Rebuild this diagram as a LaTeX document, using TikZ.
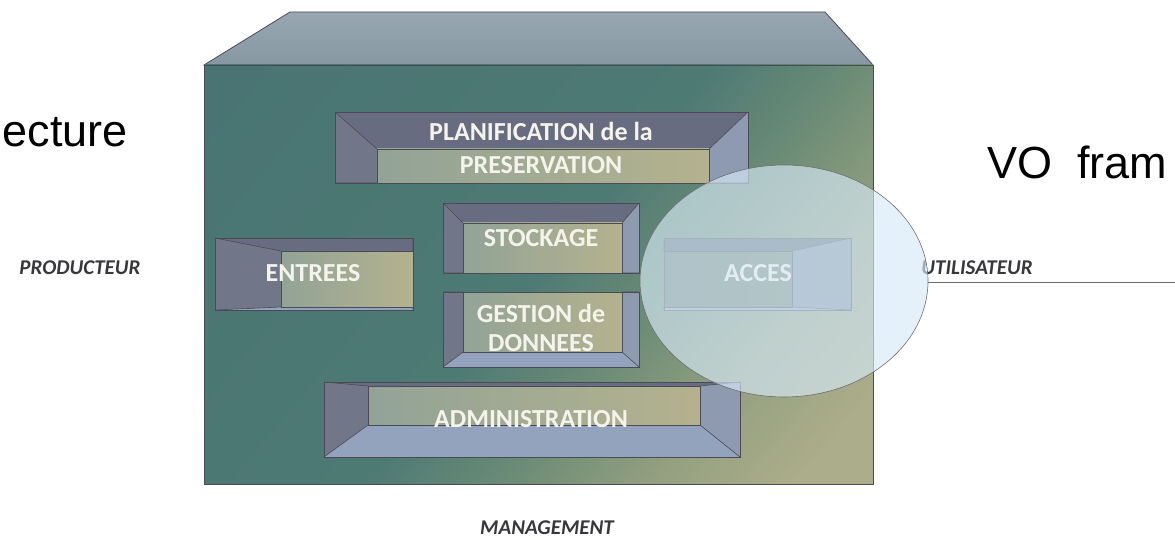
\documentclass[tikz,border=0pt]{standalone}
\usepackage{fontspec}
\setmainfont{Liberation Sans}
\newfontfamily\carlfont{Carlito}
\usetikzlibrary{shapes.geometric}
\definecolor{tealA}{RGB}{70,113,114}
\definecolor{tealB}{RGB}{78,122,116}
\definecolor{midG}{RGB}{108,140,118}
\definecolor{khakiA}{RGB}{148,160,128}
\definecolor{khakiB}{RGB}{172,173,138}
\definecolor{topA}{RGB}{152,167,177}
\definecolor{topB}{RGB}{134,151,162}
\definecolor{edgeC}{RGB}{75,75,85}
\definecolor{bT}{RGB}{104,108,128}
\definecolor{bL}{RGB}{114,118,137}
\definecolor{bR}{RGB}{142,154,176}
\definecolor{bB}{RGB}{148,163,189}
\definecolor{inL}{RGB}{146,163,150}
\definecolor{inR}{RGB}{180,178,142}
\definecolor{labW}{RGB}{244,244,236}
\definecolor{labD}{RGB}{55,55,60}
\definecolor{ellF}{RGB}{215,234,247}
\definecolor{ellD}{RGB}{110,110,110}
\pgfdeclareverticalshading{frontshade}{100bp}{color(0bp)=(khakiB); color(20bp)=(khakiB); color(30bp)=(khakiA); color(40bp)=(midG); color(50bp)=(tealB); color(100bp)=(tealA)}
\tikzset{
  edge/.style={draw=edgeC, line width=0.8pt},
  bevT/.style={fill=bT},
  bevL/.style={fill=bL},
  bevR/.style={fill=bR},
  bevB/.style={fill=bB},
  innerF/.style={left color=inL, right color=inR, draw=edgeC, line width=0.6pt},
  boxlab/.style={font=\carlfont\bfseries\fontsize{26}{30}\selectfont, text=labW, inner sep=0pt},
  outlab/.style={font=\carlfont\bfseries\itshape\fontsize{21}{25}\selectfont, text=labD, inner sep=0pt},
  biglab/.style={font=\fontsize{45}{54}\selectfont, text=black, inner sep=0pt},
}
% outer x1 y1 x2 y2, inner a1 b1 a2 b2
\newcommand\recess[8]{%
  \fill[bevT] (#1,#2) -- (#3,#2) -- (#7,#6) -- (#5,#6) -- cycle;
  \fill[bevL] (#1,#2) -- (#5,#6) -- (#5,#8) -- (#1,#4) -- cycle;
  \fill[bevR] (#3,#2) -- (#3,#4) -- (#7,#8) -- (#7,#6) -- cycle;
  \fill[bevB] (#1,#4) -- (#5,#8) -- (#7,#8) -- (#3,#4) -- cycle;
  \draw[edgeC, line width=0.6pt] (#1,#2) -- (#5,#6) (#3,#2) -- (#7,#6) (#1,#4) -- (#5,#8) (#3,#4) -- (#7,#8);
  \draw[innerF] (#5,#6) rectangle (#7,#8);
  \draw[edge] (#1,#2) rectangle (#3,#4);
}
\begin{document}
\begin{tikzpicture}[x=1pt, y=-1pt]
\useasboundingbox (0,0) rectangle (1175,540);
% cabinet
\shade[top color=topA, bottom color=topB] (204,65) -- (290,12) -- (825,12) -- (873,65) -- cycle;
\draw[edge] (204,65) -- (290,12) -- (825,12) -- (873,65) -- cycle;
\shade[shading=frontshade, shading angle=50] (204,65) rectangle (873,484);
\draw[edge] (204,65) rectangle (873,484);
% modules
\recess{335}{112}{748}{183}{377}{149}{709}{183}
\recess{443}{203}{639}{273}{463}{223}{622}{273}
\recess{443}{292}{639}{367}{463}{292}{622}{352}
\recess{215}{238}{413}{310}{281}{251}{413}{307}
\begin{scope}[bevT/.style={fill={rgb,255:red,88;green,104;blue,112}},
              bevR/.style={fill={rgb,255:red,125;green,140;blue,157}},
              innerF/.style={left color={rgb,255:red,100;green,124;blue,114}, right color={rgb,255:red,110;green,128;blue,112}, draw=edgeC, line width=0.6pt}]
\recess{664}{238}{851}{310}{664}{251}{792}{307}
\end{scope}
\recess{324}{382}{740}{457}{368}{386}{700}{425}
% module labels
\node[boxlab] (plan1) at (541,131) {PLANIFICATION de la};
\node[boxlab] (plan2) at (541,165) {PRESERVATION};
\node[boxlab] (stock) at (541,238) {STOCKAGE};
\node[boxlab] (gest1) at (541,313) {GESTION de};
\node[boxlab] (gest2) at (541,343) {DONNEES};
\node[boxlab] (entr) at (313,273) {ENTREES};
\node[boxlab] (acces) at (758,273) {ACCES};
\node[boxlab] (admin) at (531,419) {ADMINISTRATION};
% outer labels
\node[outlab] (prod) at (80,268) {PRODUCTEUR};
\node[outlab] (util) at (977,268) {UTILISATEUR};
\node[outlab] (mgmt) at (547,528) {MANAGEMENT};
\node[biglab, anchor=base east] (arch) at (128,147) {ecture};
\node[biglab, anchor=base west] (vo) at (987,179) {VO\ \ fram};
% ellipse overlay
\node[ellipse, draw=ellD, line width=0.6pt, fill=ellF, fill opacity=0.65, minimum width=288pt, minimum height=232pt, inner sep=0pt] (ell) at (784,281) {};
\coordinate (lineend) at (1175,282);
\draw[ellD, line width=0.6pt] (ell.east |- lineend) -- (lineend);
\end{tikzpicture}
\end{document}
